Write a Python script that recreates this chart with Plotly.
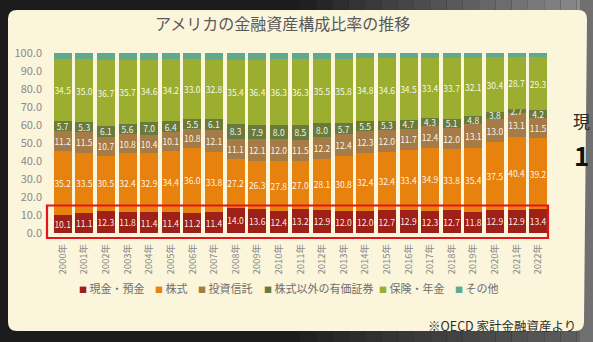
import plotly.graph_objects as go

# ---- data: share of US household financial assets (%) ----
years = ["2000年", "2001年", "2002年", "2003年", "2004年", "2005年", "2006年", "2007年",
         "2008年", "2009年", "2010年", "2011年", "2012年", "2013年", "2014年", "2015年",
         "2016年", "2017年", "2018年", "2019年", "2020年", "2021年", "2022年"]

cash = [10.1, 11.1, 12.3, 11.8, 11.4, 11.4, 11.2, 11.4, 14.0, 13.6, 12.4, 13.2,
        12.9, 12.0, 12.0, 12.7, 12.9, 12.3, 12.7, 11.8, 12.9, 12.9, 13.4]
stocks = [35.2, 33.5, 30.5, 32.4, 32.9, 34.4, 36.0, 33.8, 27.2, 26.3, 27.8, 27.0,
          28.1, 30.8, 32.4, 32.4, 33.4, 34.9, 33.8, 35.4, 37.5, 40.4, 39.2]
trusts = [11.2, 11.5, 10.7, 10.8, 10.4, 10.1, 10.8, 12.1, 11.1, 12.1, 12.0, 11.5,
          12.2, 12.4, 12.3, 12.0, 11.7, 12.4, 12.0, 13.1, 13.0, 13.1, 11.5]
other_securities = [5.7, 5.3, 6.1, 5.6, 7.0, 6.4, 5.5, 6.1, 8.3, 7.9, 8.0, 8.5,
                    8.0, 5.7, 5.5, 5.3, 4.7, 4.3, 5.1, 4.8, 3.8, 2.7, 4.2]
insurance = [34.5, 35.0, 36.7, 35.7, 34.6, 34.2, 33.0, 32.8, 35.4, 36.4, 36.3, 36.3,
             35.5, 35.8, 34.8, 34.6, 34.5, 33.4, 33.7, 32.1, 30.4, 28.7, 29.3]
others = [3.3, 3.6, 3.7, 3.7, 3.7, 3.5, 3.5, 3.8, 4.0, 3.7, 3.5, 3.5,
          3.3, 3.3, 3.0, 3.0, 2.8, 2.7, 2.7, 2.8, 2.4, 2.2, 2.4]

series_names = ["現金・預金", "株式", "投資信託", "株式以外の有価証券", "保険・年金", "その他"]
series_values = [cash, stocks, trusts, other_securities, insurance, others]
series_colors = ["#9E2018", "#E8820E", "#A57B48", "#697B3C", "#9BAE30", "#60A98C"]
series_labelled = [True, True, True, True, True, False]

y_ticks = [0, 10, 20, 30, 40, 50, 60, 70, 80, 90, 100]

# ---- page geometry ----
FONT = "Noto Sans CJK JP"
W, H = 593, 342
ML, MR, MT, MB = 52, 44, 53, 109
PW, PH = W - ML - MR, H - MT - MB


def fx(px):
    """pixel column -> paper x"""
    return (px - ML) / PW


def fy(py):
    """pixel row -> paper y"""
    return (H - MB - py) / PH


fig = go.Figure()

for name, vals, color, lab in zip(series_names, series_values, series_colors, series_labelled):
    fig.add_trace(go.Bar(
        x=years, y=vals, name=name,
        marker=dict(color=color, line=dict(width=0)),
        text=[f"{v:.1f}" for v in vals] if lab else None,
        textposition="inside", insidetextanchor="middle", textangle=0,
        textfont=dict(family=FONT, size=8.5, color="rgba(255,255,255,0.93)"),
        showlegend=False, hoverinfo="skip",
    ))

shapes = []

# dark surround, lighter towards the right edge
steps = 18
for i in range(steps):
    x0 = 300 + i * (W - 300) / steps
    x1 = 300 + (i + 1) * (W - 300) / steps
    g_top = int(0x1a + (0x8c - 0x1a) * (i + 1) / steps)
    g_bot = int(0x1e + (0x60 - 0x1e) * (i + 1) / steps)
    shapes.append(dict(type="rect", xref="paper", yref="paper", layer="below",
                       x0=fx(x0), x1=fx(x1), y0=fy(0), y1=fy(11),
                       fillcolor=f"rgb({g_top},{g_top},{g_top})", line=dict(width=0)))
    shapes.append(dict(type="rect", xref="paper", yref="paper", layer="below",
                       x0=fx(x0), x1=fx(x1), y0=fy(330), y1=fy(H),
                       fillcolor=f"rgb({g_bot},{g_bot},{g_bot})", line=dict(width=0)))
shapes.append(dict(type="rect", xref="paper", yref="paper", layer="below",
                   x0=fx(580), x1=fx(W), y0=fy(0), y1=fy(H),
                   fillcolor="#707070", line=dict(width=0)))

# cream slide panel with rounded corners
pl, pt, pr, pb, r = 8, 10, 587, 331, 9
path = (
    f"M {fx(pl + r)} {fy(pt)} L {fx(pr - r)} {fy(pt)} "
    f"Q {fx(pr)} {fy(pt)} {fx(pr)} {fy(pt + r)} "
    f"L {fx(pr - 3)} {fy(pb - r)} Q {fx(pr - 3)} {fy(pb)} {fx(pr - 3 - r)} {fy(pb)} "
    f"L {fx(pl + r)} {fy(pb)} Q {fx(pl)} {fy(pb)} {fx(pl)} {fy(pb - r)} "
    f"L {fx(pl)} {fy(pt + r)} Q {fx(pl)} {fy(pt)} {fx(pl + r)} {fy(pt)} Z"
)
shapes.append(dict(type="path", xref="paper", yref="paper", layer="below", path=path,
                   fillcolor="#FAF5DB", line=dict(width=0)))

# red highlight frame around the cash & deposits row
shapes.append(dict(type="rect", xref="paper", yref="paper", layer="above",
                   x0=fx(47), x1=fx(548), y0=fy(238), y1=fy(205.5),
                   fillcolor="rgba(0,0,0,0)", line=dict(color="#E3141B", width=2.2)))

annotations = [
    dict(text="アメリカの金融資産構成比率の推移", xref="paper", yref="paper",
         x=fx(282), y=fy(23), xanchor="center", yanchor="middle", showarrow=False,
         font=dict(family=FONT, size=16, color="#5a5a5a")),
    dict(text="※OECD 家計金融資産より", xref="paper", yref="paper",
         x=fx(578), y=fy(325), xanchor="right", yanchor="middle", showarrow=False,
         font=dict(family=FONT, size=12.5, color="#2e2e2e")),
    dict(text="現", xref="paper", yref="paper", x=fx(571), y=fy(120),
         xanchor="left", yanchor="middle", showarrow=False,
         font=dict(family=FONT, size=17, color="#2a2a2a")),
    dict(text="<b>1</b>", xref="paper", yref="paper", x=fx(572), y=fy(154),
         xanchor="left", yanchor="middle", showarrow=False,
         font=dict(family=FONT, size=26, color="#111111")),
]

# legend row: coloured square + series name
legend_left_px = [77, 153, 196, 262, 377, 453]
for name, color, lx in zip(series_names, series_colors, legend_left_px):
    annotations.append(dict(
        text=f"<span style='color:{color};font-size:8px'>■</span> {name}",
        xref="paper", yref="paper", x=fx(lx), y=fy(288),
        xanchor="left", yanchor="middle", showarrow=False,
        font=dict(family=FONT, size=11, color="#6e6e6e")))

fig.update_layout(
    width=W, height=H,
    margin=dict(l=ML, r=MR, t=MT, b=MB, pad=0),
    paper_bgcolor="#1c1c1c",
    plot_bgcolor="#FFFDF2",
    barmode="stack",
    bargap=0.17,
    uniformtext=dict(minsize=8.5, mode="show"),
    showlegend=False,
    shapes=shapes,
    annotations=annotations,
    xaxis=dict(
        type="category", tickangle=-90, showgrid=False, zeroline=False, showline=False,
        ticks="", ticklabelstandoff=8,
        tickfont=dict(family=FONT, size=9.5, color="#8a8a8a"),
    ),
    yaxis=dict(
        range=[0, 100], tickvals=y_ticks, tickformat=".1f", showgrid=False,
        zeroline=False, showline=False, ticks="", ticklabelstandoff=9,
        tickfont=dict(family=FONT, size=11, color="#8a8a8a"),
    ),
)

fig.write_html("out.html")
